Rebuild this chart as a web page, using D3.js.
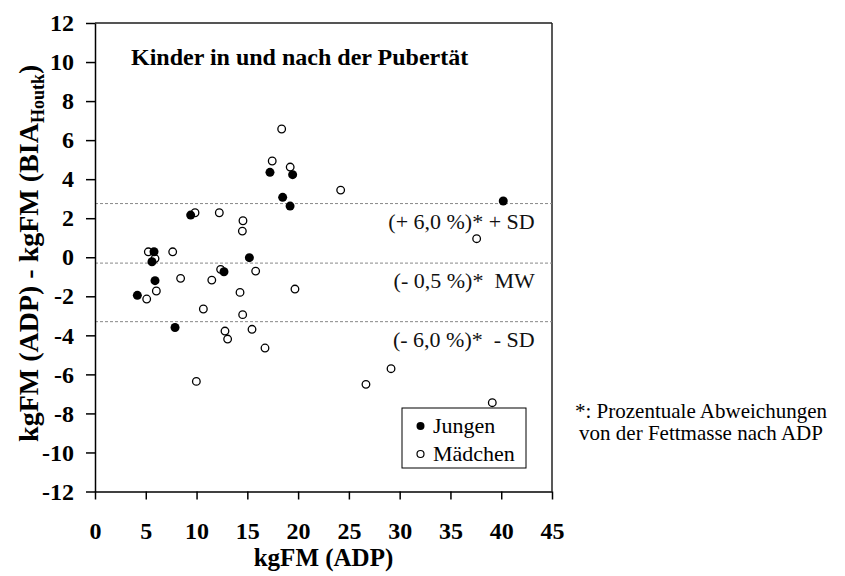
<!DOCTYPE html>
<html>
<head>
<meta charset="utf-8">
<script src="https://cdn.jsdelivr.net/npm/d3@7"></script>
<style>
  body { margin: 0; background: #fff; }
  svg { font-family: "Liberation Serif", "Times New Roman", serif; }
  .axis path, .axis line { stroke: #000; stroke-width: 1.5; }
</style>
</head>
<body>
<div class="svg-container"></div>
<script>
// Jungen = filled, Mädchen = open  [kgFM (ADP), difference]
let jungen = [
  [18.48, 3.07], [19.21, 2.62], [40.2, 2.88], [9.42, 2.16], [5.81, 0.28],
  [5.61, -0.23], [15.2, -0.02], [12.7, -0.74], [5.91, -1.2], [4.17, -1.95],
  [7.88, -3.6], [17.23, 4.35], [19.46, 4.23]
]
let maedchen = [
  [24.19, 3.44], [9.85, 2.28], [12.24, 2.28], [14.57, 1.87], [14.51, 1.34],
  [37.58, 0.95], [5.25, 0.28], [5.91, -0.07], [7.65, 0.28], [12.37, -0.62],
  [15.82, -0.71], [8.43, -1.08], [11.5, -1.17], [6.04, -1.73], [19.69, -1.63],
  [14.28, -1.8], [5.09, -2.14], [10.67, -2.65], [14.54, -2.94], [15.46, -3.69],
  [12.8, -3.78], [13.06, -4.19], [16.74, -4.65], [18.38, 6.57], [17.45, 4.93],
  [19.22, 4.62], [9.98, -6.36], [26.68, -6.51], [29.15, -5.71], [39.12, -7.45]
]
// reference lines: +SD, MW, -SD
let refValues = [2.75, -0.3, -3.3]
let refLabels = ['(+ 6,0 %)* + SD', '(- 0,5 %)*  MW', '(- 6,0 %)*  - SD']
let xTicks = [0, 5, 10, 15, 20, 25, 30, 35, 40, 45]
let yTicks = [-12, -10, -8, -6, -4, -2, 0, 2, 4, 6, 8, 10, 12]
let legendNames = ['Jungen', 'Mädchen']
let footnote = ['*: Prozentuale Abweichungen', 'von der Fettmasse nach ADP']

let serif = 'Liberation Serif, Times New Roman, serif'
let width = 845
let height = 576
let plotLeft = 95, plotRight = 552, plotTop = 23, plotBottom = 491.5

let xScale = d3.scaleLinear().domain([0, 45]).range([plotLeft, plotRight])
let yScale = d3.scaleLinear().domain([-12, 12]).range([plotBottom, plotTop])

let svg = d3.select('.svg-container')
  .append('svg')
  .attr('width', width)
  .attr('height', height)

svg.append('rect')
  .attr('width', width)
  .attr('height', height)
  .attr('fill', '#fff')

// frame top / right
svg.append('line')
  .attr('x1', plotLeft).attr('x2', plotRight)
  .attr('y1', plotTop).attr('y2', plotTop)
  .attr('stroke', '#555').attr('stroke-width', 2)
svg.append('line')
  .attr('x1', plotRight).attr('x2', plotRight)
  .attr('y1', plotTop).attr('y2', plotBottom)
  .attr('stroke', '#222').attr('stroke-width', 1.5)

// dashed reference lines
svg.selectAll('.ref')
  .data(refValues)
  .enter()
  .append('line')
  .attr('class', 'ref')
  .attr('x1', plotLeft).attr('x2', plotRight)
  .attr('y1', d => yScale(d)).attr('y2', d => yScale(d))
  .attr('stroke', '#888')
  .attr('stroke-width', 1)
  .attr('stroke-dasharray', '3,2')

svg.selectAll('.refLabel')
  .data(refValues)
  .enter()
  .append('text')
  .attr('class', 'refLabel')
  .attr('x', xScale(43.3))
  .attr('y', d => yScale(d) + 25)
  .attr('text-anchor', 'end')
  .style('font-size', '22px')
  .style('white-space', 'pre')
  .attr('fill', '#111')
  .text((d, i) => refLabels[i])

let xAxis = d3.axisBottom(xScale)
  .tickValues(xTicks)
  .tickFormat(d => String(d))
  .tickSize(8)
  .tickSizeOuter(0)
  .tickPadding(22)

let yAxis = d3.axisLeft(yScale)
  .tickValues(yTicks)
  .tickFormat(d => String(d))
  .tickSize(9)
  .tickSizeOuter(0)
  .tickPadding(12)

let gx = svg.append('g')
  .attr('class', 'axis')
  .attr('transform', `translate(0, ${plotBottom})`)
  .call(xAxis)
  .attr('font-family', serif)
  .attr('font-size', 24)
  .attr('font-weight', 'bold')

let gy = svg.append('g')
  .attr('class', 'axis')
  .attr('transform', `translate(${plotLeft}, 0)`)
  .call(yAxis)
  .attr('font-family', serif)
  .attr('font-size', 24)
  .attr('font-weight', 'bold')

// axis titles
svg.append('text')
  .attr('x', (plotLeft + plotRight) / 2)
  .attr('y', 566)
  .attr('text-anchor', 'middle')
  .style('font-size', '25px')
  .style('font-weight', 'bold')
  .text('kgFM (ADP)')

let yTitle = svg.append('text')
  .attr('transform', `translate(38, ${yScale(0.2)}) rotate(-90)`)
  .attr('text-anchor', 'middle')
  .style('font-size', '28px')
  .style('font-weight', 'bold')
yTitle.append('tspan').text('kgFM (ADP) - kgFM (BIA')
yTitle.append('tspan').attr('dy', 6).style('font-size', '18px').text('Houtk')
yTitle.append('tspan').attr('dy', -6).text(')')

// title
svg.append('text')
  .attr('x', 131)
  .attr('y', 65)
  .style('font-size', '24px')
  .style('font-weight', 'bold')
  .text('Kinder in und nach der Pubertät')

// points
svg.selectAll('.open')
  .data(maedchen)
  .enter()
  .append('circle')
  .attr('class', 'open')
  .attr('cx', d => xScale(d[0]))
  .attr('cy', d => yScale(d[1]))
  .attr('r', 3.8)
  .attr('fill', '#fff')
  .attr('stroke', '#000')
  .attr('stroke-width', 1.3)

svg.selectAll('.filled')
  .data(jungen)
  .enter()
  .append('circle')
  .attr('class', 'filled')
  .attr('cx', d => xScale(d[0]))
  .attr('cy', d => yScale(d[1]))
  .attr('r', 4.5)
  .attr('fill', '#000')

// legend
let legend = svg.append('g')
  .attr('transform', 'translate(402, 408)')
legend.append('rect')
  .attr('width', 124)
  .attr('height', 60)
  .attr('fill', '#fff')
  .attr('stroke', '#000')
  .attr('stroke-width', 1)
legendNames.forEach((name, i) => {
  legend.append('circle')
    .attr('cx', 18.5)
    .attr('cy', 18 + i * 28)
    .attr('r', i === 0 ? 4 : 3.5)
    .attr('fill', i === 0 ? '#000' : '#fff')
    .attr('stroke', '#000')
    .attr('stroke-width', i === 0 ? 0 : 1.2)
  legend.append('text')
    .attr('x', 31)
    .attr('y', 25 + i * 28)
    .style('font-size', '22px')
    .text(name)
})

// footnote
svg.selectAll('.foot')
  .data(footnote)
  .enter()
  .append('text')
  .attr('class', 'foot')
  .attr('x', 701)
  .attr('y', (d, i) => 418 + i * 22)
  .attr('text-anchor', 'middle')
  .style('font-size', '21px')
  .text(d => d)
</script>
</body>
</html>
